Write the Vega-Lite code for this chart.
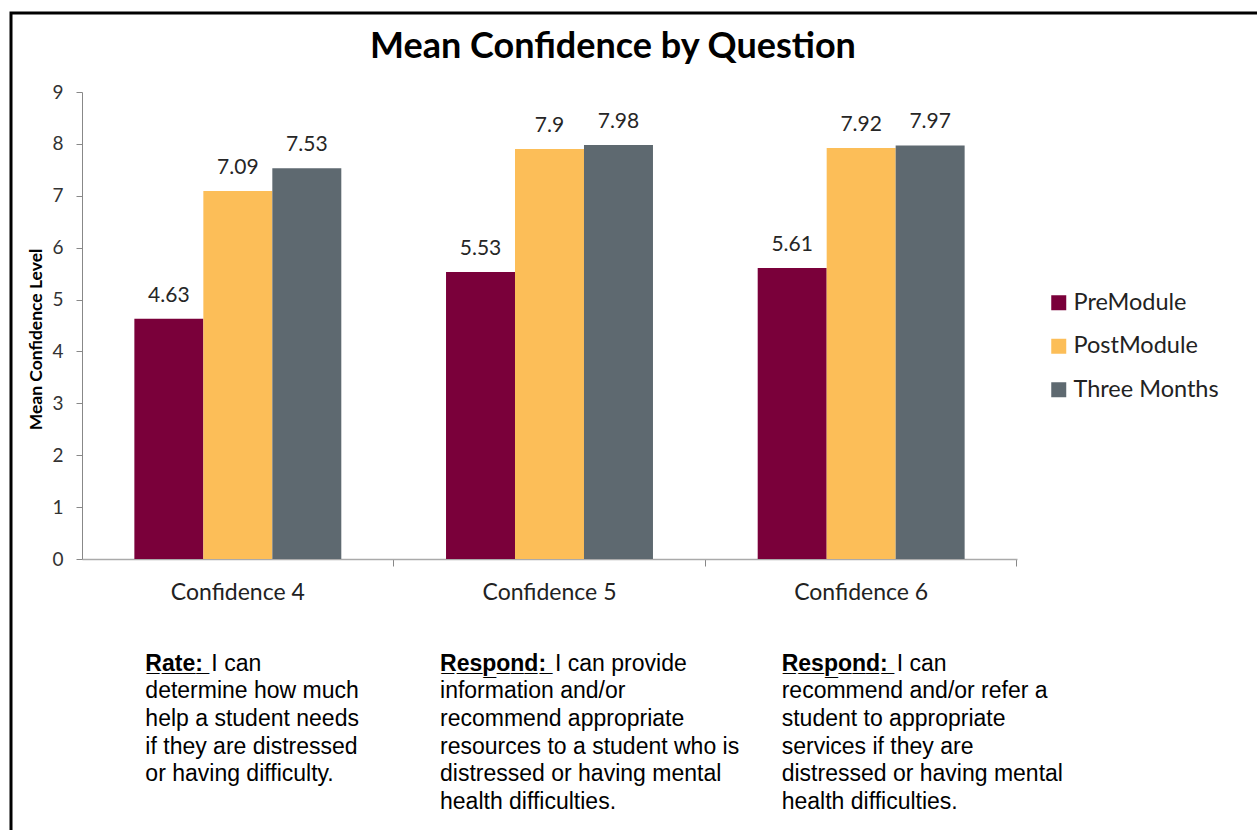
{
  "$schema": "https://vega.github.io/schema/vega-lite/v6.json",
  "autosize": {"type": "none"},
  "padding": {"left": 11, "top": 13, "right": 0, "bottom": 0},
  "width": 1250,
  "height": 830,
  "background": "white",
  "config": {"view": {"stroke": "#000000", "strokeWidth": 3}, "font": "Lato"},
  "title": {
    "text": "Mean Confidence by Question",
    "font": "Lato",
    "fontSize": 36,
    "fontWeight": "bold",
    "color": "#000000",
    "anchor": "middle",
    "frame": "group",
    "baseline": "alphabetic",
    "offset": -81,
    "dx": -23
  },
  "datasets": {
    "scores": [
      {"question": "Confidence 4", "series": "PreModule", "value": 4.63},
      {"question": "Confidence 4", "series": "PostModule", "value": 7.09},
      {"question": "Confidence 4", "series": "Three Months", "value": 7.53},
      {"question": "Confidence 5", "series": "PreModule", "value": 5.53},
      {"question": "Confidence 5", "series": "PostModule", "value": 7.9},
      {"question": "Confidence 5", "series": "Three Months", "value": 7.98},
      {"question": "Confidence 6", "series": "PreModule", "value": 5.61},
      {"question": "Confidence 6", "series": "PostModule", "value": 7.92},
      {"question": "Confidence 6", "series": "Three Months", "value": 7.97}
    ],
    "notes": [
      {"question": "Confidence 4", "head": "R\u0332a\u0332t\u0332e\u0332:\u0332", "first": "I can", "rest": ["determine how much", "help a student needs", "if they are distressed", "or having difficulty."]},
      {"question": "Confidence 5", "head": "R\u0332e\u0332s\u0332p\u0332o\u0332n\u0332d\u0332:\u0332", "first": "I can provide", "rest": ["information and/or", "recommend appropriate", "resources to a student who is", "distressed or having mental", "health difficulties."]},
      {"question": "Confidence 6", "head": "R\u0332e\u0332s\u0332p\u0332o\u0332n\u0332d\u0332:\u0332", "first": "I can", "rest": ["recommend and/or refer a", "student to appropriate", "services if they are", "distressed or having mental", "health difficulties."]}
    ]
  },
  "layer": [
    {
      "data": {"name": "scores"},
      "mark": {"type": "bar"},
      "encoding": {
        "x": {
          "field": "question",
          "type": "nominal",
          "scale": {"domain": ["Confidence 4", "Confidence 5", "Confidence 6"], "range": [71, 1006], "paddingInner": 0.336, "paddingOuter": 0.168},
          "axis": {
            "title": null,
            "orient": "bottom",
            "offset": -284,
            "labelAngle": 0,
            "domainColor": "#aaaaaa",
            "domainWidth": 1.5,
            "tickColor": "#888888",
            "tickSize": 7,
            "bandPosition": 1.253,
            "labelFont": "Lato",
            "labelFontSize": 23,
            "labelColor": "#222222",
            "labelPadding": 15
          }
        },
        "xOffset": {"field": "series", "type": "nominal", "scale": {"domain": ["PreModule", "PostModule", "Three Months"]}},
        "y": {
          "field": "value",
          "type": "quantitative",
          "scale": {"domain": [0, 9], "range": [546, 79], "nice": false, "zero": true},
          "axis": {
            "title": "Mean Confidence Level",
            "offset": -71,
            "values": [0, 1, 2, 3, 4, 5, 6, 7, 8, 9],
            "format": "d",
            "grid": false,
            "domainColor": "#888888",
            "tickColor": "#888888",
            "tickSize": 6,
            "labelFont": "Lato",
            "labelFontSize": 19,
            "labelColor": "#333333",
            "labelPadding": 13,
            "titleFont": "Lato",
            "titleFontSize": 17.5,
            "titleFontWeight": "bold",
            "titleColor": "#000000",
            "titlePadding": 6,
            "titleY": 326
          }
        },
        "color": {
          "field": "series",
          "type": "nominal",
          "scale": {"domain": ["PreModule", "PostModule", "Three Months"], "range": ["#7a003a", "#fcbe58", "#5e6970"]},
          "legend": {
            "title": null,
            "orient": "none",
            "legendX": 1036,
            "legendY": 278,
            "symbolType": "square",
            "symbolSize": 225,
            "symbolStrokeWidth": 0,
            "symbolOpacity": 1,
            "labelFont": "Lato",
            "labelFontSize": 23.5,
            "labelColor": "#222222",
            "labelOffset": 3,
            "rowPadding": 18.5
          }
        }
      }
    },
    {
      "data": {"name": "scores"},
      "mark": {"type": "text", "baseline": "alphabetic", "dy": -17, "font": "Lato", "fontSize": 21, "color": "#262626"},
      "encoding": {
        "x": {"field": "question", "type": "nominal"},
        "xOffset": {"field": "series", "type": "nominal"},
        "y": {"field": "value", "type": "quantitative"},
        "text": {"field": "value", "type": "quantitative"}
      }
    },
    {
      "data": {"name": "notes"},
      "transform": [{"filter": "datum.question == 'Confidence 4'"}],
      "mark": {"type": "text", "align": "left", "baseline": "alphabetic", "dx": 11, "font": "Liberation Sans", "fontWeight": "bold", "fontSize": 23, "color": "#000000"},
      "encoding": {"x": {"field": "question", "type": "nominal", "bandPosition": 0}, "y": {"datum": -2.153, "type": "quantitative"}, "text": {"field": "head"}}
    },
    {
      "data": {"name": "notes"},
      "transform": [{"filter": "datum.question == 'Confidence 4'"}],
      "mark": {"type": "text", "align": "left", "baseline": "alphabetic", "dx": 77, "font": "Liberation Sans", "fontSize": 23, "color": "#000000"},
      "encoding": {"x": {"field": "question", "type": "nominal", "bandPosition": 0}, "y": {"datum": -2.153, "type": "quantitative"}, "text": {"field": "first"}}
    },
    {
      "data": {"name": "notes"},
      "transform": [{"filter": "datum.question == 'Confidence 4'"}],
      "mark": {"type": "text", "align": "left", "baseline": "alphabetic", "dx": 11, "font": "Liberation Sans", "fontSize": 23, "lineHeight": 27.7, "color": "#000000"},
      "encoding": {"x": {"field": "question", "type": "nominal", "bandPosition": 0}, "y": {"datum": -2.686, "type": "quantitative"}, "text": {"field": "rest"}}
    },
    {
      "data": {"name": "notes"},
      "transform": [{"filter": "datum.question == 'Confidence 5'"}],
      "mark": {"type": "text", "align": "left", "baseline": "alphabetic", "dx": -6, "font": "Liberation Sans", "fontWeight": "bold", "fontSize": 23, "color": "#000000"},
      "encoding": {"x": {"field": "question", "type": "nominal", "bandPosition": 0}, "y": {"datum": -2.153, "type": "quantitative"}, "text": {"field": "head"}}
    },
    {
      "data": {"name": "notes"},
      "transform": [{"filter": "datum.question == 'Confidence 5'"}],
      "mark": {"type": "text", "align": "left", "baseline": "alphabetic", "dx": 109, "font": "Liberation Sans", "fontSize": 23, "color": "#000000"},
      "encoding": {"x": {"field": "question", "type": "nominal", "bandPosition": 0}, "y": {"datum": -2.153, "type": "quantitative"}, "text": {"field": "first"}}
    },
    {
      "data": {"name": "notes"},
      "transform": [{"filter": "datum.question == 'Confidence 5'"}],
      "mark": {"type": "text", "align": "left", "baseline": "alphabetic", "dx": -6, "font": "Liberation Sans", "fontSize": 23, "lineHeight": 27.7, "color": "#000000"},
      "encoding": {"x": {"field": "question", "type": "nominal", "bandPosition": 0}, "y": {"datum": -2.686, "type": "quantitative"}, "text": {"field": "rest"}}
    },
    {
      "data": {"name": "notes"},
      "transform": [{"filter": "datum.question == 'Confidence 6'"}],
      "mark": {"type": "text", "align": "left", "baseline": "alphabetic", "dx": 24, "font": "Liberation Sans", "fontWeight": "bold", "fontSize": 23, "color": "#000000"},
      "encoding": {"x": {"field": "question", "type": "nominal", "bandPosition": 0}, "y": {"datum": -2.153, "type": "quantitative"}, "text": {"field": "head"}}
    },
    {
      "data": {"name": "notes"},
      "transform": [{"filter": "datum.question == 'Confidence 6'"}],
      "mark": {"type": "text", "align": "left", "baseline": "alphabetic", "dx": 139, "font": "Liberation Sans", "fontSize": 23, "color": "#000000"},
      "encoding": {"x": {"field": "question", "type": "nominal", "bandPosition": 0}, "y": {"datum": -2.153, "type": "quantitative"}, "text": {"field": "first"}}
    },
    {
      "data": {"name": "notes"},
      "transform": [{"filter": "datum.question == 'Confidence 6'"}],
      "mark": {"type": "text", "align": "left", "baseline": "alphabetic", "dx": 24, "font": "Liberation Sans", "fontSize": 23, "lineHeight": 27.7, "color": "#000000"},
      "encoding": {"x": {"field": "question", "type": "nominal", "bandPosition": 0}, "y": {"datum": -2.686, "type": "quantitative"}, "text": {"field": "rest"}}
    }
  ]
}
